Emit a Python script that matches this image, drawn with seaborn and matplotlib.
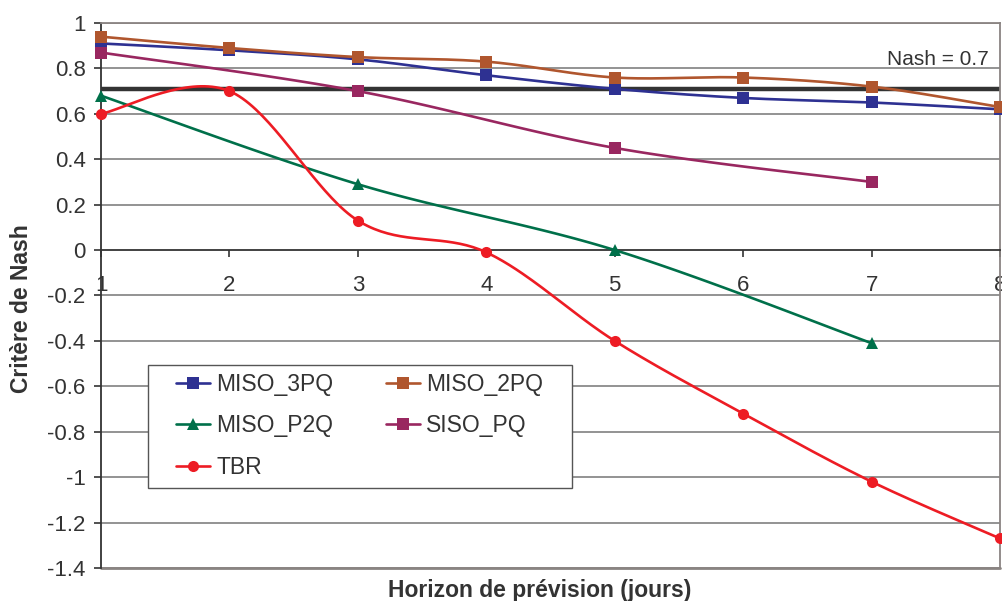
import numpy as np
import pandas as pd
import matplotlib
matplotlib.use("Agg")
import matplotlib.pyplot as plt
from matplotlib.lines import Line2D
from matplotlib.patches import Rectangle
import seaborn as sns

# ---- data ----
x_all = [1, 2, 3, 4, 5, 6, 7, 8]
x_odd = [1, 3, 5, 7]
miso_3pq = [0.91, 0.88, 0.84, 0.77, 0.71, 0.67, 0.65, 0.62]
miso_2pq = [0.94, 0.89, 0.85, 0.83, 0.76, 0.76, 0.72, 0.63]
miso_p2q = [0.68, 0.29, 0.00, -0.41]
siso_pq = [0.87, 0.70, 0.45, 0.30]
tbr = [0.60, 0.70, 0.13, -0.01, -0.40, -0.72, -1.02, -1.27]
nash_ref = 0.71
y_ticks = [-1.4, -1.2, -1.0, -0.8, -0.6, -0.4, -0.2, 0, 0.2, 0.4, 0.6, 0.8, 1.0]
y_ticklabels = ["-1.4", "-1.2", "-1", "-0.8", "-0.6", "-0.4", "-0.2", "0", "0.2", "0.4", "0.6", "0.8", "1"]

series = [
    ("MISO_3PQ", x_all, miso_3pq, "#2E3192", "s"),
    ("MISO_2PQ", x_all, miso_2pq, "#B0562E", "s"),
    ("MISO_P2Q", x_odd, miso_p2q, "#00704A", "^"),
    ("SISO_PQ", x_odd, siso_pq, "#992760", "s"),
    ("TBR", x_all, tbr, "#ED1C24", "o"),
]


def smooth(xs, ys, n=40):
    """Catmull-Rom smoothing (Excel-like smoothed line)."""
    P = np.column_stack([xs, ys]).astype(float)
    P = np.vstack([P[0], P, P[-1]])
    out = []
    for i in range(1, len(P) - 2):
        p0, p1, p2, p3 = P[i - 1], P[i], P[i + 1], P[i + 2]
        t = np.linspace(0, 1, n)[:, None]
        m1 = (p2 - p0) / 2
        m2 = (p3 - p1) / 2
        h00 = 2 * t**3 - 3 * t**2 + 1
        h10 = t**3 - 2 * t**2 + t
        h01 = -2 * t**3 + 3 * t**2
        h11 = t**3 - t**2
        seg = h00 * p1 + h10 * m1 + h01 * p2 + h11 * m2
        out.append(seg if i == 1 else seg[1:])
    out = np.vstack(out)
    return out[:, 0], out[:, 1]


sns.set_theme(style="white")
plt.rcParams["font.family"] = ["Liberation Sans", "DejaVu Sans"]
text_color = "#333333"

fig = plt.figure(figsize=(10.02, 6.01), dpi=100)
ax = fig.add_axes([0.1008, 0.055, 0.8972, 0.9067])

ax.set_ylim(-1.4, 1.0)
ax.set_xlim(1, 8)

# grid
ax.set_yticks(y_ticks)
ax.set_yticklabels(y_ticklabels)
for yv in y_ticks:
    if yv != 0:
        ax.axhline(yv, color="#808080", lw=1.2, zorder=1)

# Nash reference line
ax.axhline(nash_ref, color="#333333", lw=3.2, zorder=2)
ax.text(7.91, 0.815, "Nash = 0.7", ha="right", va="baseline",
        fontsize=15, color=text_color)

handles = {}
for name, xs, ys, col, mk in series:
    sx, sy = smooth(xs, ys)
    sns.lineplot(x=sx, y=sy, ax=ax, color=col, lw=1.9, sort=False,
                 estimator=None, zorder=3)
    ms = 8 if mk != "^" else 8.5
    ax.plot(xs, ys, linestyle="none", marker=mk, color=col,
            markersize=ms, markeredgewidth=0, zorder=4, clip_on=False)
    handles[name] = Line2D([0], [0], color=col, lw=1.9, marker=mk,
                           markersize=ms, markeredgewidth=0, label=name)

# spines
for s in ["top", "right"]:
    ax.spines[s].set_color("#8a8482")
    ax.spines[s].set_linewidth(1.3)
ax.spines["left"].set_color("#333333")
ax.spines["left"].set_linewidth(1.3)
ax.spines["bottom"].set_position(("data", 0))
ax.spines["bottom"].set_color("#333333")
ax.spines["bottom"].set_linewidth(1.3)
ax.axhline(-1.4, color="#8a8482", lw=2.0, zorder=1, clip_on=False)

ax.set_xticks(x_all)
ax.set_xticklabels([str(v) for v in x_all])
ax.tick_params(axis="x", direction="out", length=5, width=1.2, color="#333333",
               pad=13, labelsize=16, labelcolor=text_color, bottom=True)
ax.tick_params(axis="y", direction="out", length=5, width=1.2, color="#333333",
               pad=6, labelsize=16, labelcolor=text_color, left=True)

ax.set_xlabel("")
ax.set_ylabel("")
fig.text(0.539, 0.017, "Horizon de prévision (jours)", ha="center", va="center",
         fontsize=16.5, fontweight="bold", color=text_color)
fig.text(0.021, 0.486, "Critère de Nash", ha="center", va="center", rotation=90,
         fontsize=16.5, fontweight="bold", color=text_color)

# legend frame
frame = Rectangle((0.052, 0.147), 0.472, 0.2255, transform=ax.transAxes,
                  facecolor="white", edgecolor="#555555", lw=1.0, zorder=5)
ax.add_patch(frame)

order = ["MISO_3PQ", "MISO_P2Q", "TBR", "MISO_2PQ", "SISO_PQ"]
leg = ax.legend(handles=[handles[k] for k in order], ncol=2, loc="upper left",
                bbox_to_anchor=(0.0834, 0.3578),
                fontsize=16.5, frameon=False,
                handlelength=1.5, handletextpad=0.25, labelspacing=0.8,
                borderpad=0, borderaxespad=0, columnspacing=2.3,
                labelcolor=text_color)
leg.set_zorder(6)

fig.savefig("out.png", dpi=100)
